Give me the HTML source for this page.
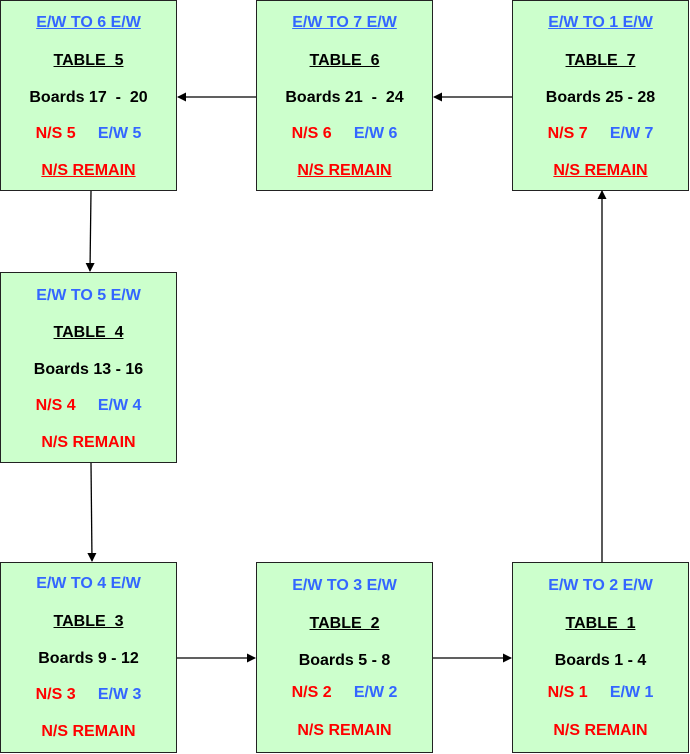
<!DOCTYPE html>
<html><head><style>
body{margin:0;width:690px;height:754px;position:relative;background:#fff;font-family:"Liberation Sans",Arial,sans-serif;font-weight:bold;font-size:16px;overflow:hidden}
.b{position:absolute;width:175px;height:189px;background:#ccffcc;border:1px solid #222;box-sizing:content-box}
.l{position:absolute;left:0;width:100%;text-align:center;white-space:pre;line-height:18px}
.u{text-decoration:underline}
.bl{color:#3366ff}.r{color:#ff0000}.k{color:#000}
svg{position:absolute;left:0;top:0}
</style></head><body>
<div class="b" style="left:0;top:0">
<div class="l bl u" style="top:13px">E/W TO 6 E/W</div>
<div class="l k u" style="top:51px">TABLE  5</div>
<div class="l k" style="top:88px">Boards 17  -  20</div>
<div class="l" style="top:124px"><span class="r">N/S 5</span>     <span class="bl">E/W 5</span></div>
<div class="l r u" style="top:161px">N/S REMAIN</div>
</div>
<div class="b" style="left:256px;top:0">
<div class="l bl u" style="top:13px">E/W TO 7 E/W</div>
<div class="l k u" style="top:51px">TABLE  6</div>
<div class="l k" style="top:88px">Boards 21  -  24</div>
<div class="l" style="top:124px"><span class="r">N/S 6</span>     <span class="bl">E/W 6</span></div>
<div class="l r u" style="top:161px">N/S REMAIN</div>
</div>
<div class="b" style="left:512px;top:0">
<div class="l bl u" style="top:13px">E/W TO 1 E/W</div>
<div class="l k u" style="top:51px">TABLE  7</div>
<div class="l k" style="top:88px">Boards 25 - 28</div>
<div class="l" style="top:124px"><span class="r">N/S 7</span>     <span class="bl">E/W 7</span></div>
<div class="l r u" style="top:161px">N/S REMAIN</div>
</div>
<div class="b" style="left:0;top:272px">
<div class="l bl" style="top:14px">E/W TO 5 E/W</div>
<div class="l k u" style="top:51px">TABLE  4</div>
<div class="l k" style="top:88px">Boards 13 - 16</div>
<div class="l" style="top:124px"><span class="r">N/S 4</span>     <span class="bl">E/W 4</span></div>
<div class="l r" style="top:161px">N/S REMAIN</div>
</div>
<div class="b" style="left:0;top:562px">
<div class="l bl" style="top:12px">E/W TO 4 E/W</div>
<div class="l k u" style="top:50px">TABLE  3</div>
<div class="l k" style="top:87px">Boards 9 - 12</div>
<div class="l" style="top:123px"><span class="r">N/S 3</span>     <span class="bl">E/W 3</span></div>
<div class="l r" style="top:160px">N/S REMAIN</div>
</div>
<div class="b" style="left:256px;top:562px">
<div class="l bl" style="top:14px">E/W TO 3 E/W</div>
<div class="l k u" style="top:52px">TABLE  2</div>
<div class="l k" style="top:89px">Boards 5 - 8</div>
<div class="l" style="top:121px"><span class="r">N/S 2</span>     <span class="bl">E/W 2</span></div>
<div class="l r" style="top:159px">N/S REMAIN</div>
</div>
<div class="b" style="left:512px;top:562px">
<div class="l bl" style="top:14px">E/W TO 2 E/W</div>
<div class="l k u" style="top:52px">TABLE  1</div>
<div class="l k" style="top:89px">Boards 1 - 4</div>
<div class="l" style="top:121px"><span class="r">N/S 1</span>     <span class="bl">E/W 1</span></div>
<div class="l r" style="top:159px">N/S REMAIN</div>
</div>
<svg width="690" height="754">
<defs><marker id="a" markerWidth="9" markerHeight="9" refX="8" refY="4.5" orient="auto" markerUnits="userSpaceOnUse"><path d="M0,0 L9,4.5 L0,9 z" fill="#000"/></marker></defs>
<g stroke="#000" stroke-width="1.3" fill="none" marker-end="url(#a)">
<line x1="256" y1="97" x2="178" y2="97"/>
<line x1="512" y1="97" x2="434" y2="97"/>
<line x1="91" y1="191" x2="90" y2="271"/>
<line x1="91" y1="463" x2="92" y2="561"/>
<line x1="177" y1="658" x2="255" y2="658"/>
<line x1="433" y1="658" x2="511" y2="658"/>
<line x1="602" y1="562" x2="602" y2="191"/>
</g>
</svg>
</body></html>
